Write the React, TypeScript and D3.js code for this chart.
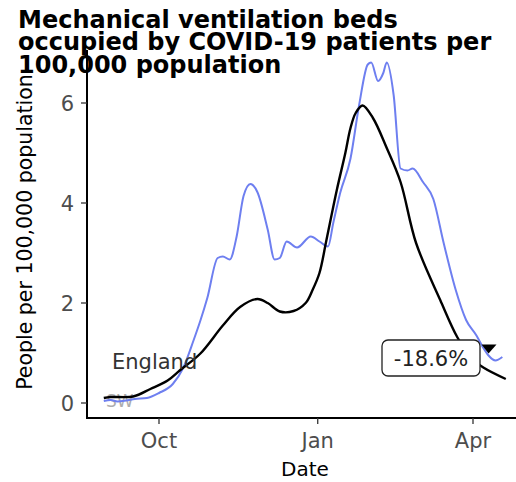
import React from "react";
import * as d3 from "d3";

const titleLines = ["Mechanical ventilation beds", "occupied by COVID-19 patients per", "100,000 population"];
const yTicks = [0, 2, 4, 6];
const xTickDates = ["2020-10-01", "2021-01-01", "2021-04-01"];
const xTickLabels = ["Oct", "Jan", "Apr"];

const smoothDates = ["2020-08-30","2020-09-03","2020-09-16","2020-09-26","2020-10-06","2020-10-13","2020-10-25","2020-11-07","2020-11-17","2020-11-27","2020-12-03","2020-12-10","2020-12-18","2020-12-25","2020-12-29","2021-01-02","2021-01-06","2021-01-12","2021-01-17","2021-01-20","2021-01-23","2021-01-27","2021-02-02","2021-02-10","2021-02-18","2021-02-27","2021-03-13","2021-03-23","2021-03-31","2021-04-07","2021-04-20"];
const smoothValues = [0.1,0.12,0.13,0.28,0.45,0.65,0.99,1.55,1.92,2.08,2.0,1.83,1.84,2.0,2.26,2.6,3.25,4.25,5.0,5.5,5.8,5.95,5.7,5.1,4.42,3.2,2.06,1.31,0.9,0.71,0.48];

const rawDates = ["2020-08-30","2020-09-03","2020-09-07","2020-09-12","2020-09-17","2020-09-24","2020-10-01","2020-10-09","2020-10-15","2020-10-21","2020-10-25","2020-10-29","2020-11-04","2020-11-07","2020-11-11","2020-11-15","2020-11-19","2020-11-23","2020-11-27","2020-12-03","2020-12-07","2020-12-10","2020-12-14","2020-12-20","2020-12-28","2021-01-02","2021-01-07","2021-01-10","2021-01-14","2021-01-20","2021-01-25","2021-01-30","2021-02-01","2021-02-05","2021-02-08","2021-02-10","2021-02-14","2021-02-18","2021-02-22","2021-02-25","2021-03-03","2021-03-09","2021-03-15","2021-03-22","2021-03-28","2021-04-03","2021-04-07","2021-04-10","2021-04-14","2021-04-18"];
const rawValues = [0.04,0.06,0.03,0.05,0.08,0.1,0.2,0.38,0.7,1.25,1.65,2.1,2.9,2.93,2.87,3.33,4.14,4.38,4.22,3.47,2.87,2.9,3.23,3.11,3.33,3.23,3.13,3.6,4.2,4.89,5.96,6.77,6.81,6.44,6.6,6.81,6.16,4.69,4.65,4.69,4.42,4.08,3.2,2.26,1.66,1.35,1.1,0.95,0.85,0.92];

const regionLabel = "England";
const ghostLabel = "SW";
const changeLabel = "-18.6%";
const changeDate = "2021-04-10";
const changeValue = 1.05;

const parse = d3.timeParse("%Y-%m-%d");
const FONT = "DejaVu Sans, sans-serif";

export default function App() {
  const W = 516, H = 482;
  const x = d3.scaleTime()
    .domain([parse("2020-10-01")!, parse("2021-04-01")!])
    .range([159, 473]);
  const y = d3.scaleLinear().domain([0, 6]).range([403, 103]);
  const left = 87, bottom = 418, top = 50, right = 516;

  const smooth = smoothDates.map((d, i) => ({ d: parse(d)!, v: smoothValues[i] }));
  const raw = rawDates.map((d, i) => ({ d: parse(d)!, v: rawValues[i] }));
  const rawLine = d3.line<{ d: Date; v: number }>()
    .x(p => x(p.d)).y(p => y(p.v)).curve(d3.curveMonotoneX);
  const smoothLine = d3.line<{ d: Date; v: number }>()
    .x(p => x(p.d)).y(p => y(p.v)).curve(d3.curveCatmullRom.alpha(0.5));

  const mx = x(parse(changeDate)!);
  const my = y(changeValue);

  return (
    <svg width={W} height={H} style={{ position: "absolute", left: 0, top: 0, background: "#fff" }}>
      <rect x={0} y={0} width={W} height={H} fill="#fff" />
      <text x={106} y={407} fontFamily={FONT} fontSize={17} fill="#999" opacity={0.8}>{ghostLabel}</text>
      <path d={rawLine(raw) || ""} fill="none" stroke="#6e7ff0" strokeWidth={2} />
      <path d={smoothLine(smooth) || ""} fill="none" stroke="#000" strokeWidth={2.4} />
      <text x={112} y={369} fontFamily={FONT} fontSize={21} fill="#333">{regionLabel}</text>
      <path d={`M${mx - 7},${my - 6}L${mx + 8},${my - 6}L${mx},${my + 3}Z`} fill="#000" />
      <rect x={382} y={340} width={98} height={36} rx={6} fill="#fff" stroke="#222" strokeWidth={1.3} />
      <text x={431} y={366} textAnchor="middle" fontFamily={FONT} fontSize={21} fill="#222">{changeLabel}</text>
      <line x1={left} x2={left} y1={top} y2={bottom + 1} stroke="#000" strokeWidth={2} />
      <line x1={left - 1} x2={right} y1={bottom} y2={bottom} stroke="#000" strokeWidth={2} />
      {yTicks.map(t => (
        <g key={t}>
          <line x1={left - 6} x2={left} y1={y(t)} y2={y(t)} stroke="#333" strokeWidth={1.3} />
          <text x={74} y={y(t) + 8} textAnchor="end" fontFamily={FONT} fontSize={21} fill="#4d4d4d">{t}</text>
        </g>
      ))}
      {xTickDates.map((t, i) => (
        <g key={t}>
          <line x1={x(parse(t)!)} x2={x(parse(t)!)} y1={bottom} y2={bottom + 6} stroke="#333" strokeWidth={1.3} />
          <text x={x(parse(t)!)} y={448} textAnchor="middle" fontFamily={FONT} fontSize={21} fill="#4d4d4d">{xTickLabels[i]}</text>
        </g>
      ))}
      <text x={305} y={476} textAnchor="middle" fontFamily={FONT} fontSize={20} fill="#000">Date</text>
      <text transform="translate(32,232) rotate(-90)" textAnchor="middle" fontFamily={FONT} fontSize={20.5} fill="#000">People per 100,000 population</text>
      {titleLines.map((l, i) => (
        <text key={i} x={18} y={28 + i * 22.3} fontFamily={FONT} fontWeight="bold" fontSize={24} fill="#000">{l}</text>
      ))}
    </svg>
  );
}
